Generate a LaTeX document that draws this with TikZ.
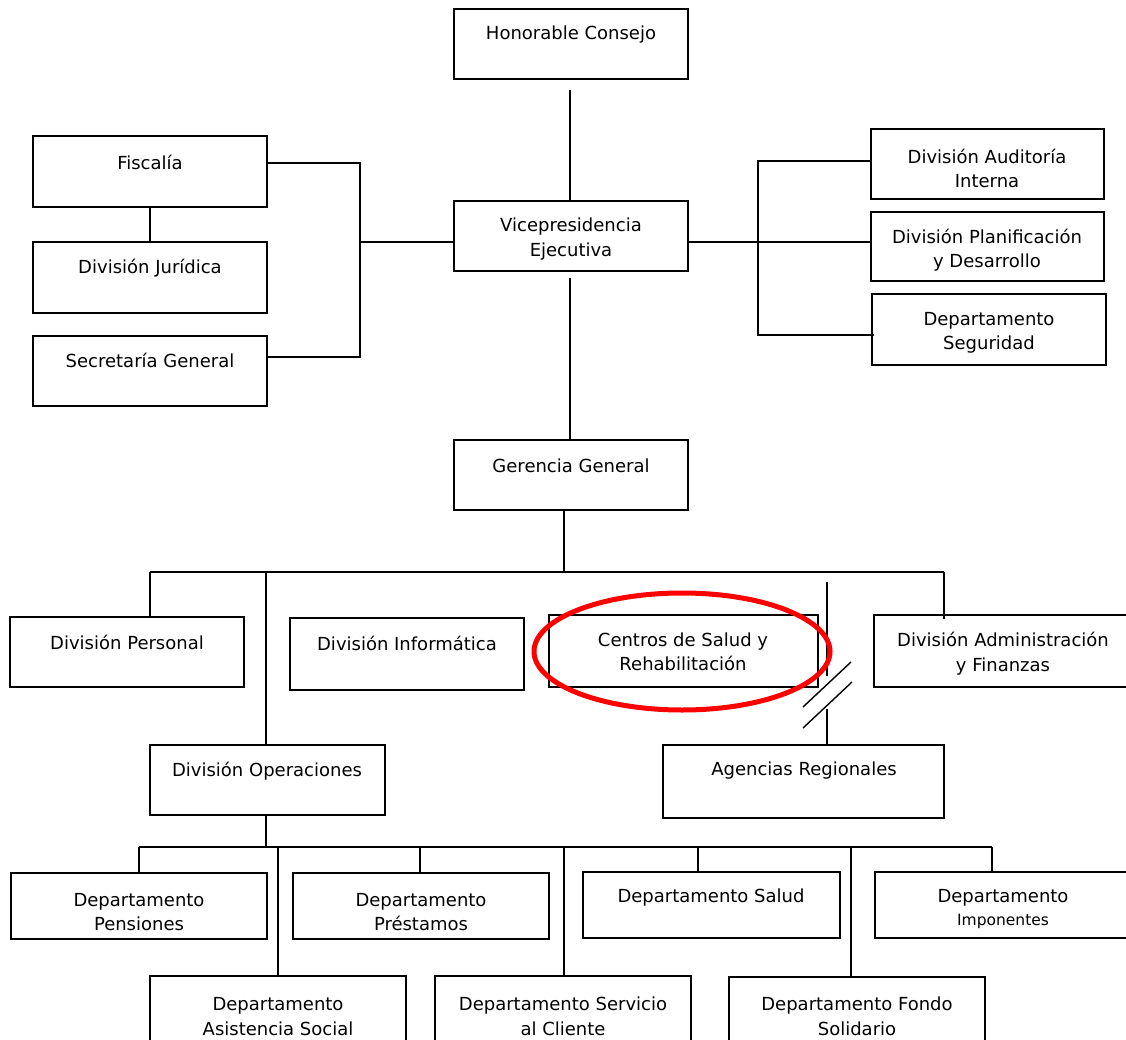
\documentclass[tikz,border=0pt]{standalone}
\usepackage{fontspec}
\setmainfont{DejaVu Sans}
\usetikzlibrary{fit,calc}
\tikzset{
  box/.style={draw, line width=1.4pt, rectangle, inner sep=0pt},
  lbl/.style={font=\fontsize{18}{24.5}\selectfont, align=center, inner sep=0pt},
  small/.style={font=\fontsize{15.5}{18}\selectfont, inner sep=0pt},
  conn/.style={line width=1.4pt},
  redring/.style={draw=red, line width=5pt}
}
\newcommand\bx[5]{\node[box, fit={(#2,#3) (#4,#5)}] (#1) {};}
\begin{document}
\begin{tikzpicture}[x=1pt,y=-1pt]
\useasboundingbox (0,0) rectangle (1126,1040);
\clip (0,0) rectangle (1126,1040);
\fill[white] (0,0) rectangle (1126,1040);
% boxes
\bx{hc}{454}{9}{688}{79}
\bx{vp}{454}{201}{688}{271}
\bx{fis}{33}{136}{267}{207}
\bx{jur}{33}{242}{267}{313}
\bx{sec}{33}{336}{267}{406}
\bx{aud}{871}{129}{1104}{199}
\bx{pla}{871}{212}{1104}{281}
\bx{seg}{872}{294}{1106}{365}
\bx{gg}{454}{440}{688}{510}
\bx{per}{10}{617}{244}{687}
\bx{inf}{290}{618}{524}{690}
\bx{cen}{549}{615}{818}{687}
\bx{adm}{874}{615}{1140}{687}
\bx{ope}{150}{745}{385}{815}
\bx{age}{663}{745}{944}{818}
\bx{pen}{11}{873}{267}{939}
\bx{pre}{293}{873}{549}{939}
\bx{sal}{583}{872}{840}{938}
\bx{imp}{875}{872}{1140}{938}
\bx{asi}{150}{976}{406}{1060}
\bx{ser}{435}{976}{691}{1060}
\bx{fon}{729}{977}{985}{1060}
% labels
\node[lbl] (hct) at (571,35) {Honorable Consejo};
\node[lbl] (vpt) at (571,239) {Vicepresidencia\\Ejecutiva};
\node[lbl] (fist) at (150,162) {Fiscalía};
\node[lbl] (jurt) at (150,268) {División Jurídica};
\node[lbl] (sect) at (150,360) {Secretaría General};
\node[lbl] (audt) at (987,168.5) {División Auditoría\\Interna};
\node[lbl] (plat) at (987,250) {División Planificación\\y Desarrollo};
\node[lbl] (segt) at (989,333) {Departamento\\Seguridad};
\node[lbl] (ggt) at (571,466) {Gerencia General};
\node[lbl] (pert) at (127,642) {División Personal};
\node[lbl] (inft) at (407,643) {División Informática};
\node[lbl] (cent) at (683,652) {Centros de Salud y\\Rehabilitación};
\node[lbl] (admt) at (1003,653.5) {División Administración\\y Finanzas};
\node[lbl] (opet) at (267,771) {División Operaciones};
\node[lbl] (aget) at (804,771) {Agencias Regionales};
\node[lbl] (pent) at (139,912) {Departamento\\Pensiones};
\node[lbl] (pret) at (421,912) {Departamento\\Préstamos};
\node[lbl] (salt) at (711,898) {Departamento Salud};
\node[lbl] (impt) at (1003,898) {Departamento};
\node[small] (impt2) at (1003,921) {Imponentes};
\node[lbl] (asit) at (278,1016.5) {Departamento\\Asistencia Social};
\node[lbl] (sert) at (563,1016.5) {Departamento Servicio\\al Cliente};
\node[lbl] (font) at (857,1016.5) {Departamento Fondo\\Solidario};
% top connectors
\coordinate (c1) at (570,90);
\coordinate (c2) at (570,278);
\draw[conn] (c1) -- (c1 |- vp.north);
\draw[conn] (c2) -- (c2 |- gg.north);
% left bracket
\coordinate (fj) at (150,0);
\draw[conn] (fj |- fis.south) -- (fj |- jur.north);
\coordinate (lb1) at (360,163);
\coordinate (lb2) at (360,357);
\coordinate (lbm) at (360,242);
\draw[conn] (fis.east |- lb1) -- (lb1) -- (lb2) -- (sec.east |- lb2);
\draw[conn] (lbm) -- (vp.west |- lbm);
% right bracket
\coordinate (rb1) at (758,161);
\coordinate (rb2) at (758,335);
\coordinate (rbm) at (758,242);
\draw[conn] (aud.west |- rb1) -- (rb1) -- (rb2) -- ($(seg.west |- rb2)+(3,0)$);
\draw[conn] (vp.east |- rbm) -- (pla.west |- rbm);
% second level
\coordinate (g1) at (564,572);
\coordinate (gl) at (150,572);
\coordinate (gr) at (944,572);
\draw[conn] (g1 |- gg.south) -- (g1);
\draw[conn] (gl) -- (gr);
\draw[conn] (gl) -- (gl |- per.north);
\draw[conn] (266,572) coordinate (go) -- (go |- ope.north);
\draw[conn] (gr) -- ($(gr |- adm.north)+(0,5)$);
% agencias with break
\coordinate (a1) at (827,582);
\coordinate (a2) at (827,676);
\coordinate (a3) at (827,709);
\draw[conn] (a1) -- (a2);
\draw[conn] (a3) -- (a3 |- age.north);
\coordinate (s1a) at (803,707); \coordinate (s1b) at (851,662);
\coordinate (s2a) at (803,728); \coordinate (s2b) at (852,682);
\draw[conn] (s1a) -- (s1b);
\draw[conn] (s2a) -- (s2b);
% third level
\coordinate (o1) at (266,847);
\coordinate (ol) at (139,847);
\coordinate (or) at (992,847);
\draw[conn] (o1 |- ope.south) -- (o1);
\draw[conn] (ol) -- (or);
\draw[conn] (ol) -- (ol |- pen.north);
\draw[conn] (278,847) coordinate (oa) -- (oa |- asi.north);
\draw[conn] (420,847) coordinate (op) -- (op |- pre.north);
\draw[conn] (564,847) coordinate (os) -- (os |- ser.north);
\draw[conn] (698,847) coordinate (osa) -- (osa |- sal.north);
\draw[conn] (851,847) coordinate (of) -- (of |- fon.north);
\draw[conn] (or) -- (or |- imp.north);
% red ellipse
\draw[redring] (682,651.5) ellipse [x radius=148, y radius=58.5];
\end{tikzpicture}
\end{document}
